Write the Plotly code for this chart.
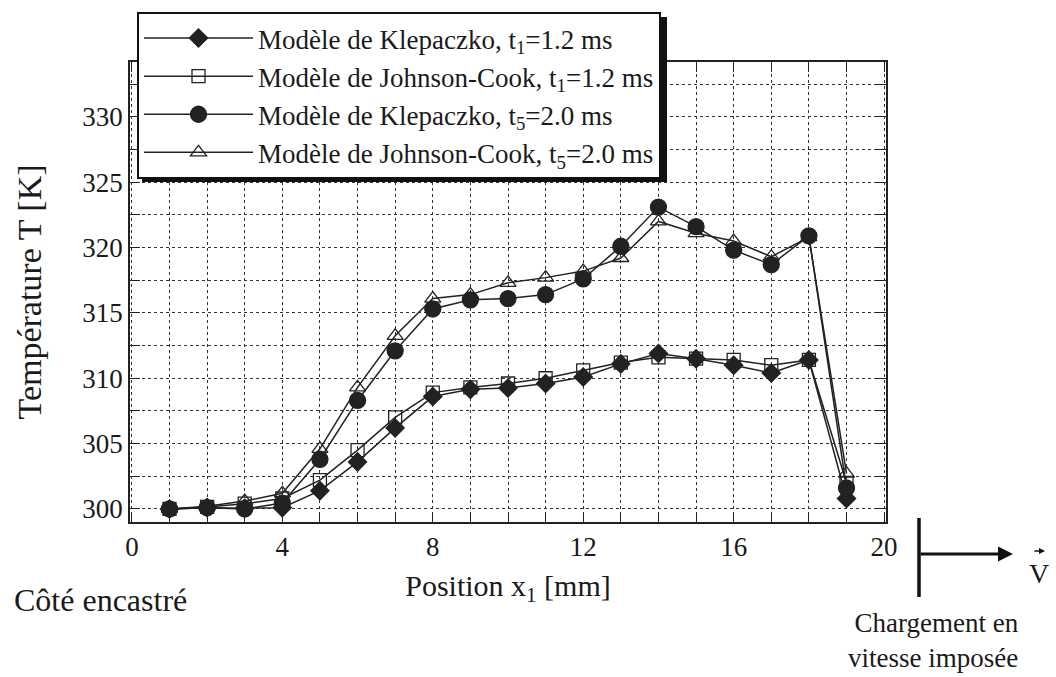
import plotly.graph_objects as go

positions = list(range(1, 20))
klep_t1 = [300.0, 300.1, 300.05, 300.1, 301.4, 303.6, 306.2, 308.6, 309.15, 309.25,
           309.6, 310.1, 311.1, 311.9, 311.5, 311.0, 310.4, 311.4, 300.8]
jc_t1 = [300.0, 300.15, 300.4, 300.8, 302.2, 304.5, 307.0, 308.9, 309.3, 309.6,
         310.0, 310.6, 311.2, 311.6, 311.5, 311.4, 311.0, 311.4, 302.0]
klep_t5 = [300.0, 300.1, 300.0, 300.45, 303.8, 308.3, 312.1, 315.3, 316.0, 316.1,
           316.4, 317.6, 320.1, 323.1, 321.6, 319.8, 318.7, 320.9, 301.6]
jc_t5 = [300.0, 300.2, 300.6, 301.2, 304.6, 309.3, 313.25, 316.1, 316.4, 317.3,
         317.7, 318.2, 319.2, 322.0, 321.1, 320.5, 319.3, 320.8, 302.7]

names = [
    "Modèle de Klepaczko, t<sub>1</sub>=1.2 ms",
    "Modèle de Johnson-Cook, t<sub>1</sub>=1.2 ms",
    "Modèle de Klepaczko, t<sub>5</sub>=2.0 ms",
    "Modèle de Johnson-Cook, t<sub>5</sub>=2.0 ms",
]
series = [klep_t1, jc_t1, klep_t5, jc_t5]
symbols = ["diamond", "square-open", "circle", "triangle-up-open"]
sizes = [14, 13, 16, 14]

FONT = "Liberation Serif, Times New Roman, serif"

fig = go.Figure()
for nm, ys, sym, sz in zip(names, series, symbols, sizes):
    fig.add_trace(go.Scatter(
        x=positions, y=ys, name=nm, mode="lines+markers",
        line=dict(color="#222222", width=1.5),
        marker=dict(symbol=sym, size=sz, color="#222222",
                    line=dict(color="#222222", width=1.3)),
    ))

L, R, T, B = 130, 170, 62, 155
W, H = 1056, 677
pw, ph = W - L - R, H - T - B

def px(x):
    return (x - L) / pw

def py(y):
    return (H - B - y) / ph

grid = dict(showgrid=True, gridcolor="#333333", griddash="dot", gridwidth=1)
fig.update_layout(
    width=W, height=H,
    margin=dict(l=L, r=R, t=T, b=B, autoexpand=False),
    paper_bgcolor="white", plot_bgcolor="white",
    font=dict(family=FONT, color="#1a1a1a", size=26),
    showlegend=True,
    legend=dict(
        x=px(137), y=py(12), xanchor="left", yanchor="top",
        bgcolor="white", bordercolor="#111111", borderwidth=2,
        font=dict(family=FONT, size=27, color="#1a1a1a"),
        itemwidth=109, tracegroupgap=0,
    ),
    xaxis=dict(
        range=[-0.05, 20.05], tickmode="linear", tick0=0, dtick=4,
        ticks="inside", ticklen=10, tickwidth=1.2, tickcolor="#222222",
        showline=True, linecolor="#222222", linewidth=1.5, mirror="ticks",
        zeroline=False, tickfont=dict(size=27), automargin=False,
        minor=dict(dtick=1, ticks="inside", ticklen=10, tickcolor="#222222",
                   showgrid=True, gridcolor="#333333", griddash="dot", gridwidth=1),
        title=dict(text="Position x<sub>1</sub> [mm]", font=dict(size=30), standoff=14),
        **grid,
    ),
    yaxis=dict(
        range=[299.0, 334.2], tickmode="linear", tick0=300, dtick=5,
        ticks="inside", ticklen=10, tickwidth=1.2, tickcolor="#222222",
        showline=True, linecolor="#222222", linewidth=1.5, mirror="ticks",
        zeroline=False, tickfont=dict(size=27), automargin=False,
        minor=dict(dtick=2.5, ticks="inside", ticklen=10, tickcolor="#222222",
                   showgrid=True, gridcolor="#333333", griddash="dot", gridwidth=1),
        title=dict(text="Température T [K]", font=dict(size=34), standoff=30),
        **grid,
    ),
)

# legend shadow
fig.add_shape(type="rect", xref="paper", yref="paper",
              x0=px(142), x1=px(667), y0=py(182), y1=py(17),
              fillcolor="#111111", line=dict(width=0), layer="above")

# loading indicator
fig.add_shape(type="line", xref="paper", yref="paper",
              x0=px(919), x1=px(919), y0=py(518), y1=py(597),
              line=dict(color="#111111", width=3.5))
fig.add_annotation(xref="paper", yref="paper", x=px(1013), y=py(554),
                   ax=-94, ay=0, text="", showarrow=True,
                   arrowhead=2, arrowsize=1, arrowwidth=3, arrowcolor="#111111")
fig.add_annotation(xref="paper", yref="paper", x=px(1039), y=py(573),
                   xanchor="center", yanchor="middle",
                   text="V", showarrow=False, font=dict(size=28))
fig.add_annotation(xref="paper", yref="paper", x=px(1045), y=py(551),
                   ax=-12, ay=0, text="", showarrow=True,
                   arrowhead=2, arrowsize=0.8, arrowwidth=1.5, arrowcolor="#111111")

fig.add_annotation(xref="paper", yref="paper", x=px(12), y=py(600),
                   xanchor="left", yanchor="middle",
                   text="Côté encastré", showarrow=False, font=dict(size=32))
fig.add_annotation(xref="paper", yref="paper", x=px(1021), y=py(640),
                   xanchor="right", yanchor="middle",
                   text="Chargement en<br>vitesse imposée", align="right",
                   showarrow=False, font=dict(size=27))

fig.write_html("out.html", config={"displayModeBar": False},
               post_script="document.body.style.margin='0';document.body.style.padding='0';")
